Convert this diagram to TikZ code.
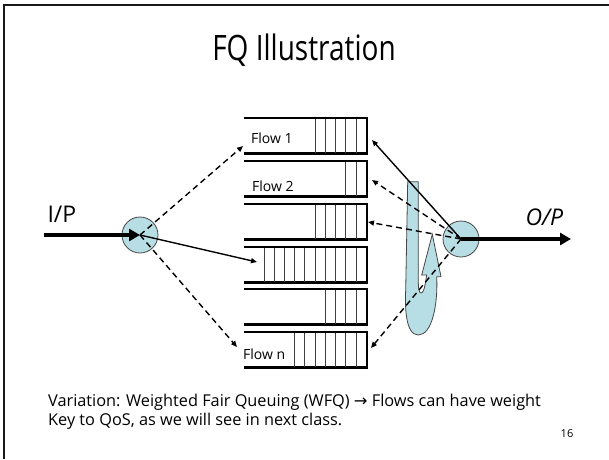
\documentclass[tikz,border=0pt]{standalone}
\usepackage{fontspec}
\setmainfont{Open Sans}
\newfontfamily\symfont{DejaVu Sans}
\usetikzlibrary{arrows.meta}
\definecolor{routerfill}{RGB}{183,222,228}
\definecolor{edgegray}{RGB}{70,70,70}
\tikzset{
  router/.style={circle, draw=edgegray, line width=0.8pt, fill=routerfill, minimum size=36pt, inner sep=0pt},
  qwall/.style={line width=2.2pt, black},
  pkt/.style={line width=0.9pt, black!75},
  flowlbl/.style={font=\fontsize{14}{14}\selectfont, inner sep=0pt, anchor=west},
  link/.style={line width=1.4pt, -{Triangle[length=6pt,width=5pt]}},
  dlink/.style={link, dash pattern=on 6pt off 4pt},
  bigarrow/.style={line width=3.5pt, -{Triangle[length=11pt,width=12pt]}},
  uturn/.style={fill=routerfill, draw=edgegray, line width=0.8pt},
}
% queue: top edge y, number of packet dividers
\newcommand{\drawqueue}[2]{%
  \draw[qwall] (244,#1) -- (367,#1) -- (367,#1+35.5) -- (244,#1+35.5);
  \foreach \k in {1,...,#2} {\draw[pkt] (366.2-10.22*\k,#1+1) -- (366.2-10.22*\k,#1+34.5);}
}
\begin{document}
\begin{tikzpicture}[x=1pt,y=-1pt]
\useasboundingbox (0,0) rectangle (609,459);
\fill[white] (0,0) rectangle (609,459);
% slide frame (left and top edges)
\draw[line width=2pt, black!90] (4,459) -- (4,5) -- (609,5);

\node (title) at (304,50) {\scalebox{0.8}[1]{\fontsize{35}{35}\selectfont FQ Illustration}};

% queues
\drawqueue{118}{5}
\drawqueue{161}{2}
\drawqueue{204}{5}
\drawqueue{247}{10}
\drawqueue{289}{4}
\drawqueue{332}{7}
\node[flowlbl] (f1) at (251,138) {Flow 1};
\node[flowlbl] (f2) at (252,186) {Flow 2};
\node[flowlbl] (fn) at (243,354) {Flow n};

% queue entry and exit points
\coordinate (q1in) at (243,146);
\coordinate (q4in) at (257,262);
\coordinate (q6in) at (237,347);
\coordinate (q1out) at (372,140);
\coordinate (q2out) at (372,180);
\coordinate (q3out) at (368,222);
\coordinate (q6out) at (371,348);

% turning arrow beside the output side
\path[uturn] (407.7,181.7) -- (418.3,181.7) -- (418.3,283)
  .. controls (418.3,296) and (423,296) .. (425,285) -- (426.7,275) -- (421.7,275)
  -- (432.3,234.3) -- (441,276.7) -- (436.7,276.7)
  .. controls (438,305) and (432,335) .. (418.3,335)
  .. controls (405,335) and (405,305) .. (405.7,290) -- cycle;

% routers
\node[router] (inR) at (140,235) {};
\node[router] (outR) at (461,239) {};

% input and output
\coordinate (inStart) at (44,235);
\coordinate (outEnd) at (571,239);
\draw[bigarrow] (inStart) -- (inR.center);
\draw[bigarrow] (outR.center) -- (outEnd);
\node[anchor=west] (ip) at (44,214) {\fontsize{23}{23}\selectfont I/P};
\node[anchor=west] (op) at (522,217) {\fontsize{23}{23}\selectfont\itshape O/P};

% classifier links
\draw[dlink] (inR.center) -- (q1in);
\draw[link] (inR.center) -- (q4in);
\draw[dlink] (inR.center) -- (q6in);

% scheduler links
\draw[link] (outR.center) -- (q1out);
\draw[dlink] (outR.center) -- (q2out);
\draw[dlink] (outR.center) -- (q3out);
\draw[dlink] (outR.center) -- (q6out);

% notes
\node[anchor=base west, inner sep=0pt] (note1) at (48,406) {\fontsize{16.3}{16.3}\selectfont Variation: Weighted Fair Queuing (WFQ) {\symfont →} Flows can have weight};
\node[anchor=base west, inner sep=0pt] (note2) at (48,425) {\fontsize{16.3}{16.3}\selectfont Key to QoS, as we will see in next class.};
\node[anchor=base, inner sep=0pt] (pg) at (567,437) {\fontsize{11}{11}\selectfont 16};
\end{tikzpicture}
\end{document}
